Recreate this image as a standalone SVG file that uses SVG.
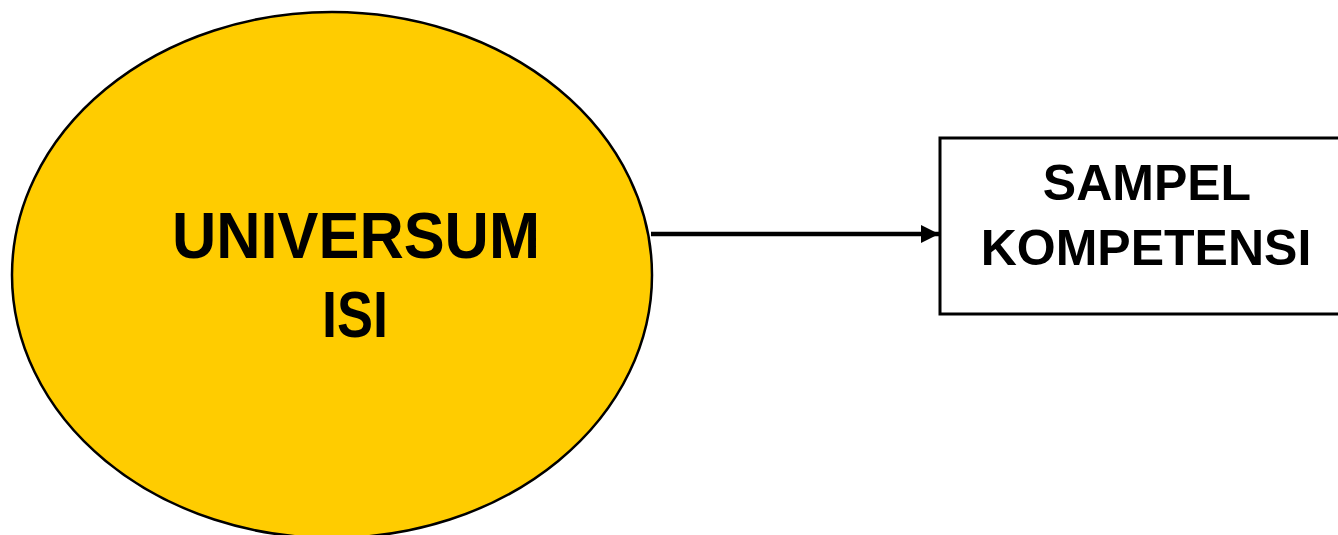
<svg xmlns="http://www.w3.org/2000/svg" width="1338" height="535" viewBox="0 0 1338 535">
<style>
.lbl{font-family:"Liberation Sans",Arial,sans-serif;font-weight:bold;fill:#000;text-anchor:middle}
</style>
<defs>
<marker id="ah" markerUnits="userSpaceOnUse" markerWidth="20" markerHeight="20" refX="18" refY="9" orient="auto">
<path d="M0,0 L18,9 L0,18 Z" fill="#000"/>
</marker>
</defs>
<rect width="1338" height="535" fill="#fff"/>
<g id="connectors">
<line x1="651" y1="234" x2="939" y2="234" stroke="#000" stroke-width="4.5" marker-end="url(#ah)"/>
</g>
<g id="universum">
<ellipse cx="332" cy="275" rx="320" ry="263" fill="#FFCC00" stroke="#000" stroke-width="2.5"/>
<text class="lbl" x="356" y="258" font-size="64" textLength="368" lengthAdjust="spacingAndGlyphs">UNIVERSUM</text>
<text class="lbl" x="355" y="337" font-size="64" textLength="66" lengthAdjust="spacingAndGlyphs">ISI</text>
</g>
<g id="sampel">
<rect x="940" y="138" width="410" height="176" fill="#fff" stroke="#000" stroke-width="3"/>
<text class="lbl" x="1147" y="200" font-size="50">SAMPEL</text>
<text class="lbl" x="1146" y="265" font-size="50">KOMPETENSI</text>
</g>
</svg>
